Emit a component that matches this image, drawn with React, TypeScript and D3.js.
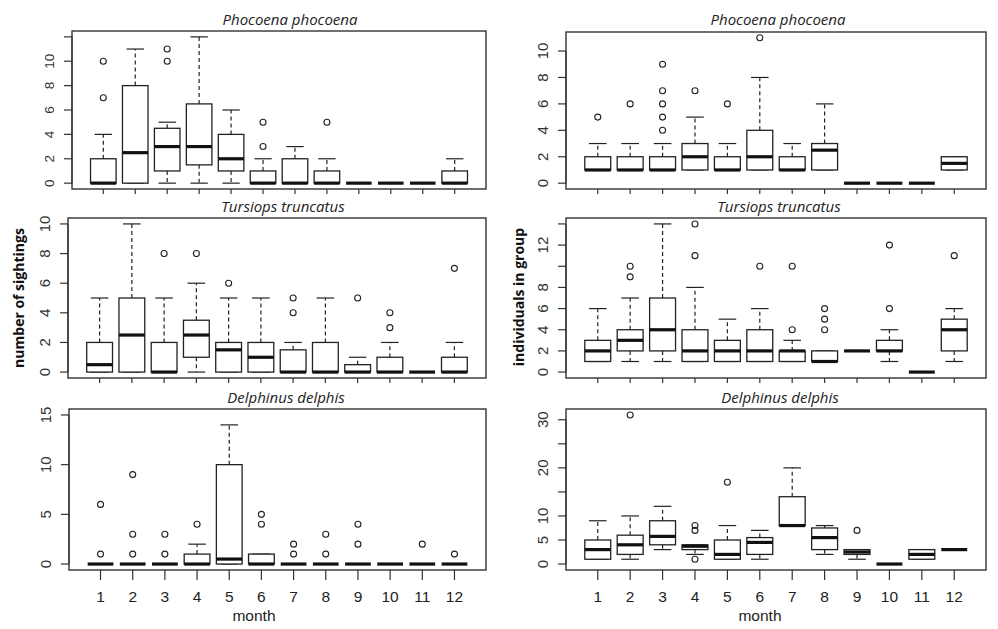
import React from "react";
import * as d3 from "d3";

// [lower whisker, q1, median, q3, upper whisker]
type BoxStat = [number, number, number, number, number];

const months = [1, 2, 3, 4, 5, 6, 7, 8, 9, 10, 11, 12];

const phocoenaSightings: BoxStat[] = [
  [0, 0, 0, 2, 4], [0, 0, 2.5, 8, 11], [0, 1, 3, 4.5, 5], [0, 1.5, 3, 6.5, 12],
  [0, 1, 2, 4, 6], [0, 0, 0, 1, 2], [0, 0, 0, 2, 3], [0, 0, 0, 1, 2],
  [0, 0, 0, 0, 0], [0, 0, 0, 0, 0], [0, 0, 0, 0, 0], [0, 0, 0, 1, 2],
];
const phocoenaSightingsOut = [[7, 10], [], [10, 11], [], [], [3, 5], [], [5], [], [], [], []];

const phocoenaGroup: BoxStat[] = [
  [1, 1, 1, 2, 3], [1, 1, 1, 2, 3], [1, 1, 1, 2, 3], [1, 1, 2, 3, 5],
  [1, 1, 1, 2, 3], [1, 1, 2, 4, 8], [1, 1, 1, 2, 3], [1, 1, 2.5, 3, 6],
  [0, 0, 0, 0, 0], [0, 0, 0, 0, 0], [0, 0, 0, 0, 0], [1, 1, 1.5, 2, 2],
];
const phocoenaGroupOut = [[5], [6], [4, 5, 6, 7, 9], [7], [6], [11], [], [], [], [], [], []];

const tursiopsSightings: BoxStat[] = [
  [0, 0, 0.5, 2, 5], [0, 0, 2.5, 5, 10], [0, 0, 0, 2, 5], [0, 1, 2.5, 3.5, 6],
  [0, 0, 1.5, 2, 5], [0, 0, 1, 2, 5], [0, 0, 0, 1.5, 2], [0, 0, 0, 2, 5],
  [0, 0, 0, 0.5, 1], [0, 0, 0, 1, 2], [0, 0, 0, 0, 0], [0, 0, 0, 1, 2],
];
const tursiopsSightingsOut = [[], [], [8], [8], [6], [], [4, 5], [], [5], [3, 4], [], [7]];

const tursiopsGroup: BoxStat[] = [
  [1, 1, 2, 3, 6], [1, 2, 3, 4, 7], [1, 2, 4, 7, 14], [1, 1, 2, 4, 8],
  [1, 1, 2, 3, 5], [1, 1, 2, 4, 6], [1, 1, 2, 2, 3], [1, 1, 1, 2, 2],
  [2, 2, 2, 2, 2], [1, 2, 2, 3, 4], [0, 0, 0, 0, 0], [1, 2, 4, 5, 6],
];
const tursiopsGroupOut = [[], [9, 10], [], [11, 14], [], [10], [4, 10], [4, 5, 6], [], [6, 12], [], [11]];

const delphinusSightings: BoxStat[] = [
  [0, 0, 0, 0, 0], [0, 0, 0, 0, 0], [0, 0, 0, 0, 0], [0, 0, 0, 1, 2],
  [0, 0, 0.5, 10, 14], [0, 0, 0, 1, 1], [0, 0, 0, 0, 0], [0, 0, 0, 0, 0],
  [0, 0, 0, 0, 0], [0, 0, 0, 0, 0], [0, 0, 0, 0, 0], [0, 0, 0, 0, 0],
];
const delphinusSightingsOut = [[1, 6], [1, 3, 9], [1, 3], [4], [], [4, 5], [1, 2], [1, 3], [2, 4], [], [2], [1]];

const delphinusGroup: BoxStat[] = [
  [1, 1, 3, 5, 9], [1, 2, 4, 6, 10], [3, 4, 5.75, 9, 12], [2, 3, 3.7, 4, 4],
  [1, 1, 2, 5, 8], [1, 2, 4.5, 5.5, 7], [8, 8, 8, 14, 20], [2, 3, 5.5, 7.5, 8],
  [1, 2, 2.5, 3, 3], [0, 0, 0, 0, 0], [1, 1, 2, 3, 3], [3, 3, 3, 3, 3],
];
const delphinusGroupOut = [[], [31], [], [1, 7, 8], [17], [], [], [], [7], [], [], []];

interface PanelProps {
  title: string;
  stats: BoxStat[];
  outliers: number[][];
  yMax: number;
  ticks: number[];
  labels: number[];
  left: number;
  right: number;
  top: number;
  bottom: number;
  titleX: number;
  titleY: number;
  tickFont: number;
  xLabels?: boolean;
  xTitleX?: number;
}

const Panel: React.FC<PanelProps> = (p) => {
  const x = d3.scaleLinear().domain([0.02, 12.98]).range([p.left, p.right]);
  const pad = p.yMax * 0.04;
  const y = d3.scaleLinear().domain([-pad, p.yMax + pad]).range([p.bottom, p.top]);
  const bw = (x(2) - x(1)) * 0.8;
  const sw = bw * 0.68;
  const stroke = "#222";
  const tickLen = p.xLabels ? 10 : 5;

  return (
    <g>
      <text x={p.titleX} y={p.titleY} textAnchor="middle" fontFamily="Open Sans" fontStyle="italic"
        fontSize={15} fill="#222">{p.title}</text>

      {/* y axis */}
      <line x1={p.left} x2={p.left} y1={y(p.ticks[0])} y2={y(p.ticks[p.ticks.length - 1])} stroke="#333" strokeWidth={1.2} />
      {p.ticks.map((t) => (
        <line key={"yt" + t} x1={p.left - 8} x2={p.left} y1={y(t)} y2={y(t)} stroke="#333" strokeWidth={1.2} />
      ))}
      {p.labels.map((t) => (
        <text key={"yl" + t} transform={`translate(${p.left - 18},${y(t)}) rotate(-90)`} textAnchor="middle"
          fontFamily="Liberation Sans" fontSize={p.tickFont} fill="#333">{t}</text>
      ))}

      {/* x axis */}
      {months.map((m) => (
        <line key={"xt" + m} x1={x(m)} x2={x(m)} y1={p.bottom} y2={p.bottom + tickLen} stroke="#333" strokeWidth={1.2} />
      ))}
      {p.xLabels && months.map((m) => (
        <text key={"xl" + m} x={x(m)} y={602} textAnchor="middle" fontFamily="Liberation Sans" fontSize={15.5} fill="#222">{m}</text>
      ))}
      {p.xLabels && (
        <text x={p.xTitleX} y={621} textAnchor="middle" fontFamily="Liberation Sans" fontSize={15.5} fill="#222">month</text>
      )}

      {/* boxes */}
      {p.stats.map(([lo, q1, med, q3, hi], i) => {
        const cx = x(months[i]);
        return (
          <g key={"b" + i} stroke={stroke} fill="none">
            <line x1={cx} x2={cx} y1={y(q3)} y2={y(hi)} strokeWidth={1.2} strokeDasharray="4,3" />
            <line x1={cx} x2={cx} y1={y(q1)} y2={y(lo)} strokeWidth={1.2} strokeDasharray="4,3" />
            <line x1={cx - sw / 2} x2={cx + sw / 2} y1={y(hi)} y2={y(hi)} strokeWidth={1.2} />
            <line x1={cx - sw / 2} x2={cx + sw / 2} y1={y(lo)} y2={y(lo)} strokeWidth={1.2} />
            <rect x={cx - bw / 2} y={y(q3)} width={bw} height={Math.max(0, y(q1) - y(q3))} fill="#fff" strokeWidth={1.3} />
            <line x1={cx - bw / 2} x2={cx + bw / 2} y1={y(med)} y2={y(med)} strokeWidth={3.2} stroke="#111" />
            {p.outliers[i].map((o) => (
              <circle key={"o" + o} cx={cx} cy={y(o)} r={3} strokeWidth={1.1} fill="none" />
            ))}
          </g>
        );
      })}

      <rect x={p.left} y={p.top} width={p.right - p.left} height={p.bottom - p.top} fill="none" stroke="#333" strokeWidth={1.4} />
    </g>
  );
};

export default function App() {
  return (
    <svg width={998} height={629} style={{ position: "absolute", left: 0, top: 0, background: "#fff" }}>
      <rect width={998} height={629} fill="#fff" />
      <Panel title="Phocoena phocoena" stats={phocoenaSightings} outliers={phocoenaSightingsOut} yMax={12}
        ticks={[0, 2, 4, 6, 8, 10, 12]} labels={[0, 2, 4, 6, 8, 10]}
        left={72} right={486} top={31} bottom={189} titleX={290} titleY={25} tickFont={13.5} />
      <Panel title="Phocoena phocoena" stats={phocoenaGroup} outliers={phocoenaGroupOut} yMax={11}
        ticks={[0, 2, 4, 6, 8, 10]} labels={[0, 2, 4, 6, 8, 10]}
        left={566} right={986} top={32} bottom={189} titleX={778} titleY={25} tickFont={15} />
      <Panel title="Tursiops truncatus" stats={tursiopsSightings} outliers={tursiopsSightingsOut} yMax={10}
        ticks={[0, 2, 4, 6, 8, 10]} labels={[0, 2, 4, 6, 8, 10]}
        left={68} right={486} top={218} bottom={378} titleX={283} titleY={212} tickFont={15} />
      <Panel title="Tursiops truncatus" stats={tursiopsGroup} outliers={tursiopsGroupOut} yMax={14}
        ticks={[0, 2, 4, 6, 8, 10, 12, 14]} labels={[0, 2, 4, 6, 8, 12]}
        left={566} right={986} top={218} bottom={378} titleX={779} titleY={212} tickFont={15} />
      <Panel title="Delphinus delphis" stats={delphinusSightings} outliers={delphinusSightingsOut} yMax={15}
        ticks={[0, 5, 10, 15]} labels={[0, 5, 10, 15]}
        left={69} right={486} top={409} bottom={570} titleX={286} titleY={403} tickFont={15} xLabels xTitleX={254} />
      <Panel title="Delphinus delphis" stats={delphinusGroup} outliers={delphinusGroupOut} yMax={31}
        ticks={[0, 5, 10, 15, 20, 25, 30]} labels={[0, 5, 10, 20, 30]}
        left={566} right={986} top={409} bottom={570} titleX={780} titleY={403} tickFont={15} xLabels xTitleX={760} />

      <text transform="translate(24,298) rotate(-90)" textAnchor="middle" fontFamily="Open Sans" fontWeight="bold"
        fontSize={14} fill="#111">number of sightings</text>
      <text transform="translate(524,297) rotate(-90)" textAnchor="middle" fontFamily="Open Sans" fontWeight="bold"
        fontSize={14} fill="#111">individuals in group</text>
    </svg>
  );
}
